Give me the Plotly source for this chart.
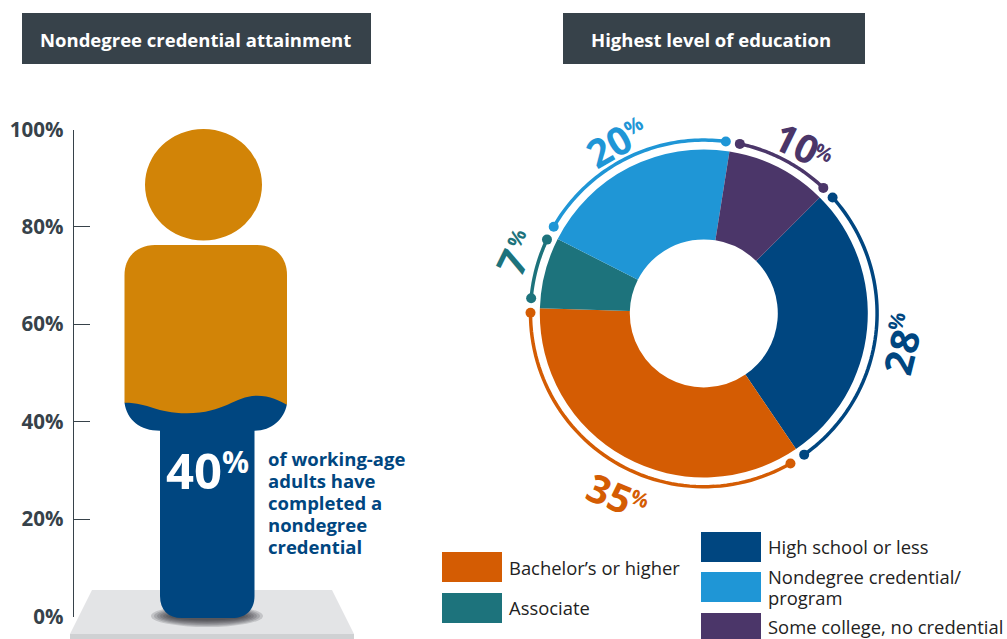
import numpy as np
import plotly.graph_objects as go

W, H = 1007, 639
# ---- data
axis_vals = [0, 20, 40, 60, 80, 100]
axis_text = ["0%", "20%", "40%", "60%", "80%", "100%"]
fill_pct = 40
categories = ["High school or less", "Bachelor’s or higher", "Associate",
              "Nondegree credential/ program", "Some college, no credential"]
values = [28, 35, 7, 20, 10]
colors = ["#004680", "#d45c03", "#1d737c", "#1f96d6", "#4b3669"]
note_lines = ["of working-age", "adults have", "completed a", "nondegree", "credential"]
title_left = "Nondegree credential attainment"
title_right = "Highest level of education"

# ---- style
FONT = "Open Sans"
SLATE = "#37424a"
NAVY = "#004680"
GOLD = "#d28407"
Y0, Y100 = 616.5, 129.5
SC = (Y0 - Y100) / 100
CX, CY, R_OUT, R_IN, R_ARC, R_POLAR = 703.8, 313.4, 164, 74, 173.3, 190
ROT = 45
# arc insets in degrees from slice start / end
ins_start = [3, 4.2, 3.2, 3, 3]
ins_end = [1.2, 1.6, 1.8, 1.7, 1.4]
label_pos = [  # number cx, cy, angle, percent cx, cy
    (900, 352, -76, 896, 321),
    (610, 492, 22, 640, 498),
    (511, 262, -64, 516, 238),
    (608, 145, -30, 633, 125),
    (797, 142, 26, 824, 152),
]


def yp(py):
    return (Y0 - py) / SC


def P(x, py):
    return f"{x},{yp(py)}"


fig = go.Figure()
fig.add_trace(go.Scatter(x=[72.5, 72.5], y=[0, 100], mode="lines", line=dict(width=0),
                         hoverinfo="skip", showlegend=False, xaxis="x", yaxis="y"))
fig.add_trace(go.Scatter(x=[203.5], y=[fill_pct], mode="markers", marker=dict(size=1, opacity=0),
                         hoverinfo="skip", showlegend=False, xaxis="x2", yaxis="y2"))

fig.add_trace(go.Pie(labels=categories, values=values, sort=False, direction="clockwise",
                     rotation=ROT, hole=R_IN / R_OUT, textinfo="none",
                     marker=dict(colors=colors, line=dict(width=0)), showlegend=False,
                     domain=dict(x=[(CX - R_OUT) / W, (CX + R_OUT) / W],
                                 y=[(H - CY - R_OUT) / H, (H - CY + R_OUT) / H])))

start = ROT
for v, c, a, b in zip(values, colors, ins_start, ins_end):
    end = start + v * 3.6
    th = np.linspace(start + a, end - b, 60)
    sizes = [10] + [0] * 58 + [10]
    fig.add_trace(go.Scatterpolar(r=[R_ARC] * 60, theta=th, mode="lines+markers",
                                  line=dict(color=c, width=3.5),
                                  marker=dict(color=c, size=sizes, opacity=1, line=dict(width=0)),
                                  hoverinfo="skip", showlegend=False, subplot="polar"))
    start = end

shapes = []


def rect(x0, py0, x1, py1, color):
    shapes.append(dict(type="rect", xref="x2", yref="y2", x0=x0, x1=x1, y0=yp(py0), y1=yp(py1),
                       fillcolor=color, line=dict(width=0), layer="above"))


def path(d, color, op=1):
    shapes.append(dict(type="path", xref="x2", yref="y2", path=d, fillcolor=color, opacity=op,
                       line=dict(width=0), layer="above"))


# header bars
rect(22, 13, 371, 64, SLATE)
rect(563, 13, 865, 64, SLATE)

# platform
path(f"M{P(92,590)} L{P(332,590)} L{P(354,634)} L{P(70,634)} Z", "#e3e4e6")
rect(70, 634, 354, 639, "#cfd1d3")

# foot shadow
for k in range(7):
    rx, ry = 56 - k * 3, 11 - k * 1.1
    shapes.append(dict(type="circle", xref="x2", yref="y2", x0=207 - rx, x1=207 + rx,
                       y0=yp(616 - ry), y1=yp(616 + ry), fillcolor="#1c2228", opacity=0.16,
                       line=dict(width=0), layer="above"))

# person: head and torso
shapes.append(dict(type="circle", xref="x2", yref="y2", x0=145, x1=262, y0=yp(129), y1=yp(240.5),
                   fillcolor=GOLD, line=dict(width=0), layer="above"))
path(f"M{P(124.5,402.7)} L{P(124.5,275)} C{P(124.5,257)} {P(137,245)} {P(155,245)} "
     f"L{P(257,245)} C{P(275,245)} {P(287,257)} {P(287,275)} L{P(287,404.5)} "
     f"L{P(270,416)} L{P(140,416)} Z", GOLD)

# person: filled part, its wave follows the fill value
lvl = Y0 - fill_pct * SC
w = lambda off: lvl + off
path(f"M{P(124.5,w(-19))} C{P(150,w(-19))} {P(155,w(-8.5))} {P(187,w(-8.5))} "
     f"C{P(225,w(-8.5))} {P(235,w(-26))} {P(257,w(-26))} C{P(270,w(-26))} {P(280,w(-21))} {P(286.8,w(-17))} "
     f"C{P(284,419)} {P(272,430.7)} {P(254.5,430.7)} L{P(254.5,596)} "
     f"C{P(254.5,610)} {P(246,618)} {P(232,618)} L{P(182,618)} C{P(168,618)} {P(160,610)} {P(160,596)} "
     f"L{P(160,430.7)} C{P(140,430.7)} {P(127,420)} {P(124.5,w(-19))} Z", NAVY)

# legend swatches
for (x, py), c in zip([(701, 532), (442, 552), (442, 593), (701, 572), (701, 613)], colors):
    rect(x, py, x + 60, min(py + 30, 639), c)

anns = []


def text(x, py, s, size, color, bold=False, anchor="center", angle=0):
    anns.append(dict(xref="x2", yref="y2", x=x, y=yp(py), text=s, showarrow=False,
                     xanchor=anchor, yanchor="middle", textangle=angle,
                     font=dict(family=FONT, size=size, color=color, weight=700 if bold else 400)))


text(195.5, 39.5, title_left, 18.5, "white", True)
text(710.5, 39.5, title_right, 18.5, "white", True)
text(193.5, 470, str(fill_pct), 49, "white", True)
text(235.5, 461, "%", 30, "white", True)
for i, line in enumerate(note_lines):
    text(265.5, 458 + 22 * i, line, 18.5, NAVY, True, "left")

for v, c, (nx, ny, ang, px, py) in zip(values, colors, label_pos):
    text(nx, ny, str(v), 39, c, True, angle=ang)
    text(px, py, "%", 20, c, True, angle=ang)

leg_text = [(507, 567, "Bachelor’s or higher"), (507, 607, "Associate"), (766, 546.5, "High school or less"),
            (766, 576, "Nondegree credential/"), (766, 597.5, "program"), (766, 626.5, "Some college, no credential")]
for x, py, s in leg_text:
    text(x, py, s, 18.4, "#222222", False, "left")

fig.update_layout(
    width=W, height=H, autosize=False, margin=dict(l=0, r=0, t=0, b=0),
    paper_bgcolor="white", plot_bgcolor="rgba(0,0,0,0)", showlegend=False,
    shapes=shapes, annotations=anns,
    xaxis=dict(range=[0, W], domain=[0, 1], visible=False, fixedrange=True, automargin=False),
    yaxis=dict(range=[0, 100], domain=[(H - Y0) / H, (H - Y100) / H], anchor="free", automargin=False,
               position=72.5 / W, tickvals=axis_vals, ticktext=axis_text, ticks="inside", ticklen=16,
               tickcolor=SLATE, tickwidth=1, showline=True, linecolor=SLATE, linewidth=1,
               showgrid=False, zeroline=False, ticklabelstandoff=5, fixedrange=True,
               tickfont=dict(family=FONT, size=20.5, color=SLATE, weight=700)),
    xaxis2=dict(range=[0, W], domain=[0, 1], visible=False, anchor="y2", fixedrange=True, automargin=False),
    yaxis2=dict(range=[yp(H), yp(0)], domain=[0, 1], visible=False, anchor="x2",
                fixedrange=True, automargin=False),
    polar=dict(domain=dict(x=[(CX - R_POLAR) / W, (CX + R_POLAR) / W],
                           y=[(H - CY - R_POLAR) / H, (H - CY + R_POLAR) / H]),
               bgcolor="rgba(0,0,0,0)",
               radialaxis=dict(range=[0, R_POLAR], visible=False),
               angularaxis=dict(rotation=90, direction="clockwise", visible=False)),
)
fig.write_html("out.html", config=dict(displayModeBar=False),
               post_script="document.body.style.margin='0';")
